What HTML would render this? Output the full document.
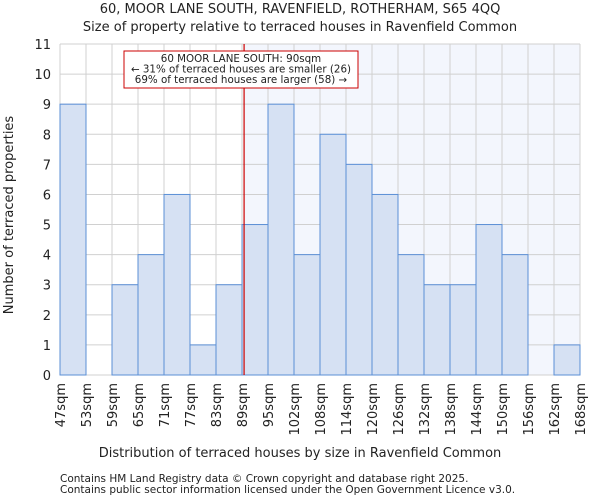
<!DOCTYPE html>
<html><head><meta charset="utf-8"><style>
body{margin:0;background:#fff;font-family:"DejaVu Sans","Liberation Sans",sans-serif;}
svg text{font-family:"DejaVu Sans","Liberation Sans",sans-serif;fill:#222;}
</style></head><body>
<svg id="c" width="600" height="500">
<text x="300" y="13" font-size="13" text-anchor="middle">60, MOOR LANE SOUTH, RAVENFIELD, ROTHERHAM, S65 4QQ</text>
<text x="300" y="31" font-size="13" text-anchor="middle">Size of property relative to terraced houses in Ravenfield Common</text>
<g id="plot"></g>
<text x="300" y="457" font-size="13" text-anchor="middle">Distribution of terraced houses by size in Ravenfield Common</text>
<text transform="translate(13,215) rotate(-90)" font-size="13" text-anchor="middle">Number of terraced properties</text>
<text x="60" y="482" font-size="10.5" fill="#444">Contains HM Land Registry data © Crown copyright and database right 2025.</text>
<text x="60" y="493" font-size="10.5" fill="#444">Contains public sector information licensed under the Open Government Licence v3.0.</text>
</svg>
<script>
const categories=["47sqm","53sqm","59sqm","65sqm","71sqm","77sqm","83sqm","89sqm","95sqm","102sqm","108sqm","114sqm","120sqm","126sqm","132sqm","138sqm","144sqm","150sqm","156sqm","162sqm","168sqm"];
const counts=[9,0,3,4,6,1,3,5,9,4,8,7,6,4,3,3,5,4,0,1];
const yTicks=[0,1,2,3,4,5,6,7,8,9,10,11];
const markerBin=7.08;
const NS="http://www.w3.org/2000/svg";
const x0=60,x1=580,y0=375,y1=44,yMax=11;
const bw=(x1-x0)/counts.length;
const X=i=>x0+i*bw, Y=v=>y0-(y0-y1)*v/yMax;
const g=document.getElementById('plot');
function el(t,a){const e=document.createElementNS(NS,t);for(const k in a)e.setAttribute(k,a[k]);g.appendChild(e);return e;}
const mx=X(markerBin);
let r=el('rect',{x:mx,y:y1,width:x1-mx,height:y0-y1,fill:'#f3f6fd'});


for(let i=0;i<=counts.length;i++){el('line',{x1:X(i),x2:X(i),y1:y1,y2:y0,stroke:'#d0d0d0','stroke-width':1});}
yTicks.forEach(v=>{el('line',{x1:x0,x2:x1,y1:Y(v),y2:Y(v),stroke:'#d0d0d0','stroke-width':1});
 const t=el('text',{x:x0-9,y:Y(v)+5,'font-size':13,'text-anchor':'end'});t.textContent=v;
 
 });
counts.forEach((c,i)=>{if(c<=0)return;const b=el('rect',{x:X(i),y:Y(c),width:bw,height:Y(0)-Y(c),fill:'#d6e1f3',stroke:'#5b8fd6','stroke-width':1});
 
 });
categories.forEach((c,i)=>{const t=el('text',{transform:`translate(${X(i)+5},${y0+8}) rotate(-90)`,'font-size':13,'text-anchor':'end'});t.textContent=c;
 
 });
const ml=el('line',{x1:mx,x2:mx,y1:y1,y2:y0,stroke:'#cc0000','stroke-width':1.2});


const box=el('rect',{x:124,y:51,width:234,height:37,fill:'#fff',stroke:'#cc0000','stroke-width':1});


["60 MOOR LANE SOUTH: 90sqm","← 31% of terraced houses are smaller (26)","69% of terraced houses are larger (58) →"].forEach((s,i)=>{
 const t=el('text',{x:241,y:62+i*10.5,'font-size':10.3,'text-anchor':'middle'});t.textContent=s;
 
 });
</script>
</body></html>
